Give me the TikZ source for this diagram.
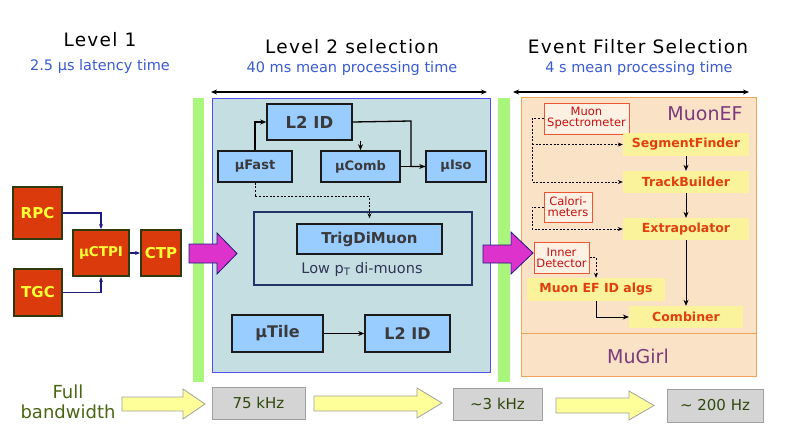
\documentclass[tikz,border=0pt]{standalone}
\usepackage{fontspec}
\setmainfont{DejaVu Sans}
\newfontfamily\tfont[LetterSpace=7]{DejaVu Sans}
\usetikzlibrary{arrows.meta,calc}
\definecolor{lonefill}{HTML}{DB3A0C}
\definecolor{loneborder}{HTML}{2F3A10}
\definecolor{lonetext}{HTML}{FFFF33}
\definecolor{ltwofill}{HTML}{99CCFF}
\definecolor{ltwoborder}{HTML}{1A1A1A}
\definecolor{ltwotext}{HTML}{3A3A3A}
\definecolor{bluefill}{HTML}{C5DEE2}
\definecolor{blueborder}{HTML}{5050F0}
\definecolor{trigborder}{HTML}{223366}
\definecolor{lowtext}{HTML}{2F3555}
\definecolor{effill}{HTML}{F9E2C6}
\definecolor{efborder}{HTML}{F2A35A}
\definecolor{srcfill}{HTML}{FDF1E4}
\definecolor{srcborder}{HTML}{EE5533}
\definecolor{srctext}{HTML}{C41010}
\definecolor{algfill}{HTML}{FAF39C}
\definecolor{algtext}{HTML}{E0400F}
\definecolor{purp}{HTML}{7C3A7C}
\definecolor{ratefill}{HTML}{D4D4D4}
\definecolor{rateborder}{HTML}{A0A0A0}
\definecolor{ratetext}{HTML}{30480C}
\definecolor{yarrow}{HTML}{FFFF99}
\definecolor{gbar}{HTML}{AAF57C}
\definecolor{magenta2}{HTML}{DD33CC}
\definecolor{navy2}{HTML}{1C1C7C}
\definecolor{bwtext}{HTML}{4A6414}
\definecolor{subblue}{HTML}{3A5BD0}
\tikzset{
  wh/.style 2 args={minimum width=#1pt, minimum height=#2pt},
  lone/.style={draw=loneborder, line width=2pt, fill=lonefill, text=lonetext, font=\bfseries\fontsize{15}{15}\selectfont, inner sep=0pt},
  ltwo/.style={draw=ltwoborder, line width=1.6pt, fill=ltwofill, text=ltwotext, font=\bfseries\fontsize{13}{13}\selectfont, inner sep=0pt},
  src/.style={draw=srcborder, line width=1pt, fill=srcfill, text=srctext, font=\fontsize{11.5}{12}\selectfont, align=center, inner sep=0pt},
  alg/.style={fill=algfill, text=algtext, font=\bfseries\fontsize{12.5}{13}\selectfont, inner sep=0pt},
  rate/.style={draw=rateborder, line width=0.8pt, fill=ratefill, text=ratetext, font=\fontsize{15}{15}\selectfont, inner sep=0pt},
  conn/.style={-{Stealth[length=6pt,width=5pt]}, line width=1.3pt},
  navconn/.style={-{Stealth[length=5pt,width=4pt]}, line width=1.5pt, navy2},
  dconn/.style={-{Stealth[length=5pt,width=4pt]}, line width=0.7pt, dash pattern=on 2pt off 1.6pt},
  econn/.style={-{Stealth[length=6pt,width=5pt]}, line width=0.8pt},
  title/.style={font=\tfont\fontsize{18.5}{19}\selectfont, text=black},
  subtitle/.style={font=\fontsize{14.5}{15}\selectfont, text=subblue},
  bigarrow/.style={fill=magenta2, draw=navy2, line width=0.8pt},
  yarr/.style={fill=yarrow, draw=rateborder, line width=0.8pt},
}
\begin{document}
\begin{tikzpicture}[x=1pt,y=-1pt]
\useasboundingbox (0,0) rectangle (789,447);
% titles
\node[title] (t1) at (100,40) {Level 1};
\node[subtitle] (s1) at (100,66) {2.5 µs latency time};
\node[title] (t2) at (352,47) {Level 2 selection};
\node[subtitle] (s2) at (352,68) {40 ms mean processing time};
\node[title] (t3) at (638,47) {Event Filter Selection};
\node[subtitle] (s3) at (639,68) {4 s mean processing time};
\coordinate (da1) at (211,92); \coordinate (da2) at (487,92);
\coordinate (db1) at (513,92); \coordinate (db2) at (749,92);
\draw[{Stealth[length=6pt,width=5pt]}-{Stealth[length=6pt,width=5pt]}, line width=1.2pt] (da1) -- (da2);
\draw[{Stealth[length=6pt,width=5pt]}-{Stealth[length=6pt,width=5pt]}, line width=1.2pt] (db1) -- (db2);
% green bars
\fill[gbar] (193,98) rectangle (204,382);
\fill[gbar] (498,98) rectangle (510,382);
% Level 2 box
\draw[fill=bluefill, draw=blueborder, line width=1pt] (212,98) rectangle (490,372);
% EF box
\draw[fill=effill, draw=efborder, line width=1pt] (521,97) rectangle (756,376);
\draw[efborder, line width=1pt] (521,333) -- (756,333);
\node[text=purp, font=\fontsize{19}{19}\selectfont] (muonef) at (705,114) {MuonEF};
\node[text=purp, font=\fontsize{19}{19}\selectfont] (mugirl) at (638,356) {MuGirl};
% Level 1 nodes
\node[lone, wh={49}{52}] (rpc) at (37.5,213) {RPC};
\node[lone, wh={48}{47}] (tgc) at (38,292.5) {TGC};
\node[lone, wh={56}{46}, font=\bfseries\fontsize{13.5}{14}\selectfont] (mctpi) at (101,253) {µCTPI};
\node[lone, wh={40}{46}] (ctp) at (161,253) {CTP};
\draw[navconn] (rpc.east) -| (mctpi.north);
\draw[navconn] (tgc.east) -| (mctpi.south);
\draw[navconn] (mctpi.east) -- (ctp.west);
% Level 2 nodes
\node[ltwo, wh={85}{36}, font=\bfseries\fontsize{16.5}{17}\selectfont] (ltop) at (309.5,122) {L2 ID};
\node[ltwo, wh={74}{31}] (mufast) at (255,166.5) {µFast};
\node[ltwo, wh={79}{31}] (mucomb) at (360.5,166.5) {µComb};
\node[ltwo, wh={60}{31}] (muiso) at (456,166.5) {µIso};
\node[draw=trigborder, line width=1.3pt, wh={218}{73}, inner sep=0pt] (trigbox) at (363,248.5) {};
\node[ltwo, wh={145}{30}, font=\bfseries\fontsize{15}{15}\selectfont] (trig) at (369.5,239) {TrigDiMuon};
\node[text=lowtext, font=\fontsize{14.5}{15}\selectfont] (lowpt) at (362,269) {Low p\textsubscript{T} di-muons};
\node[ltwo, wh={91}{37}, font=\bfseries\fontsize{16}{16}\selectfont] (mutile) at (277.5,333.5) {µTile};
\node[ltwo, wh={85}{37}, font=\bfseries\fontsize{16}{16}\selectfont] (lbot) at (407.5,333.5) {L2 ID};
\coordinate (jn) at (411,121);
\draw[conn] (mufast.north) |- (ltop.west);
\draw[conn] (ltop.south -| mucomb.north) -- (mucomb.north);
\draw[line width=1.3pt] (ltop.east) -- (jn) |- (muiso.west);
\draw[conn] (mucomb.east) -- (muiso.west);
\draw[dconn, shorten >=5pt] (mufast.south) -- ++(0,14) -| (trig.north);
\draw[conn] (mutile.east) -- (lbot.west);
% EF nodes
\node[src, wh={85}{31}] (ms) at (586.5,118.5) {Muon\\[-1pt]Spectrometer};
\node[src, wh={48}{30}] (cal) at (568,207) {Calori-\\[-1pt]meters};
\node[src, wh={55}{31}] (idet) at (561.5,257.5) {Inner\\[-1pt]Detector};
\node[alg, wh={126}{23}] (seg) at (686,144.5) {SegmentFinder};
\node[alg, wh={126}{22}] (tb) at (686,182) {TrackBuilder};
\node[alg, wh={126}{22}] (ex) at (686,229) {Extrapolator};
\node[alg, wh={138}{23}] (mid) at (596,289.5) {Muon EF ID algs};
\node[alg, wh={114}{22}] (comb) at (686,317) {Combiner};
\coordinate (dx) at (532,0);
\draw[dconn] (ms.west) -- (ms.west -| dx) |- (tb.west);
\draw[dconn] (dx |- seg.west) -- (seg.west);
\draw[dconn] (cal.west) -- (cal.west -| dx) |- (ex.west);
\draw[dconn] (idet.east) -| (mid.north);
\draw[econn] (seg.south) -- (tb.north);
\draw[econn] (tb.south) -- (ex.north);
\draw[econn] (ex.south) -- (comb.north);
\draw[econn] (mid.south) |- (comb.west);
% magenta arrows
\draw[bigarrow] (189,244) -- (217,244) -- (217,233) -- (237,253.5) -- (217,274) -- (217,263) -- (189,263) -- cycle;
\draw[bigarrow] (483,245) -- (511,245) -- (511,232) -- (533,253) -- (511,274) -- (511,263) -- (483,263) -- cycle;
% bottom row
\node[text=bwtext, font=\fontsize{18}{20}\selectfont, align=center] (bw) at (68,402) {Full\\bandwidth};
\node[rate, wh={93}{32}] (r1) at (258.5,403) {75 kHz};
\node[rate, wh={89}{32}] (r2) at (497.5,404) {\textasciitilde3 kHz};
\node[rate, wh={96}{33}] (r3) at (715,405.5) {\textasciitilde\ 200 Hz};
\draw[yarr] (122,397) -- (183,397) -- (183,389) -- (205,404) -- (183,419) -- (183,411) -- (122,411) -- cycle;
\draw[yarr] (314,396) -- (417,396) -- (417,388) -- (442,403) -- (417,418) -- (417,411) -- (314,411) -- cycle;
\draw[yarr] (556,398) -- (629,398) -- (629,391) -- (654,405.5) -- (629,420) -- (629,413) -- (556,413) -- cycle;
\end{tikzpicture}
\end{document}
